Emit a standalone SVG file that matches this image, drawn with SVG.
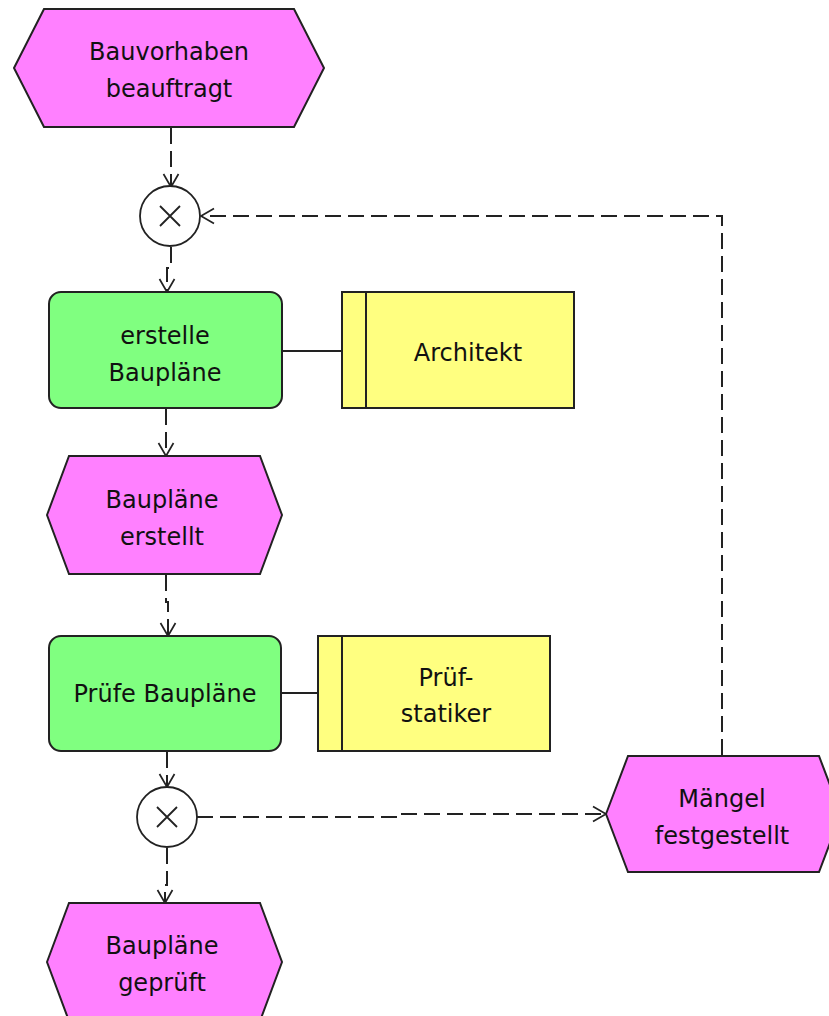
<svg xmlns="http://www.w3.org/2000/svg" width="829" height="1016" viewBox="0 0 829 1016">
<defs>
<style>
.ev{fill:#FF80FF;stroke:#222;stroke-width:2}
.fn{fill:#80FF80;stroke:#222;stroke-width:2}
.org{fill:#FFFF80;stroke:#222;stroke-width:2}
.xor{fill:#fff;stroke:#222;stroke-width:1.8}
.x{stroke:#222;stroke-width:1.8}
.t{font-family:"DejaVu Sans",Verdana,sans-serif;font-size:24px;fill:#111;text-anchor:middle}
.flow{fill:none;stroke:#222;stroke-width:2;stroke-dasharray:16 7}
.assoc{fill:none;stroke:#222;stroke-width:2}
</style>
<marker id="arr" markerUnits="userSpaceOnUse" markerWidth="20" markerHeight="20" viewBox="0 0 20 20" refX="16" refY="10" orient="auto">
<path d="M3,2.5 L16,10 L3,17.5" fill="none" stroke="#222" stroke-width="1.7"/>
</marker>
</defs>
<rect width="829" height="1016" fill="#fff"/>
<g id="connectors">
<path class="flow" d="M171,128 V187" marker-end="url(#arr)"/>
<path class="flow" d="M171,247 V268 H167 V292" marker-end="url(#arr)"/>
<path class="flow" d="M166,409 V456" marker-end="url(#arr)"/>
<path class="flow" d="M166,575 V602 H168 V636" marker-end="url(#arr)"/>
<path class="flow" d="M167,752 V787" marker-end="url(#arr)"/>
<path class="flow" d="M167,848 V885 H165 V903" marker-end="url(#arr)"/>
<path class="flow" d="M197,817 H402 V814 H606" marker-end="url(#arr)"/>
<path class="flow" d="M722,755 V216 H201" marker-end="url(#arr)"/>
<path class="assoc" d="M283,351 H342"/>
<path class="assoc" d="M282,693 H318"/>
</g>
<g id="ev_bauvorhaben">
<polygon class="ev" points="14,68 44,9 294,9 324,68 294,127 44,127"/>
<text class="t" x="169" y="60">Bauvorhaben</text>
<text class="t" x="169" y="97">beauftragt</text>
</g>
<g id="xor1">
<circle class="xor" cx="170" cy="216" r="30"/>
<path class="x" d="M160,206 L180,226 M180,206 L160,226"/>
</g>
<g id="fn_erstelle">
<rect class="fn" x="49" y="292" width="233" height="116" rx="12"/>
<text class="t" x="165" y="344">erstelle</text>
<text class="t" x="165" y="381">Baupläne</text>
</g>
<g id="org_architekt">
<rect class="org" x="342" y="292" width="232" height="116"/>
<line class="assoc" x1="366" y1="292" x2="366" y2="408"/>
<text class="t" x="468" y="361">Architekt</text>
</g>
<g id="ev_erstellt">
<polygon class="ev" points="47,515 69,456 260,456 282,515 260,574 69,574"/>
<text class="t" x="162" y="508">Baupläne</text>
<text class="t" x="162" y="545">erstellt</text>
</g>
<g id="fn_pruefe">
<rect class="fn" x="49" y="636" width="232" height="115" rx="12"/>
<text class="t" x="165" y="702">Prüfe Baupläne</text>
</g>
<g id="org_pruefstatiker">
<rect class="org" x="318" y="636" width="232" height="115"/>
<line class="assoc" x1="342" y1="636" x2="342" y2="751"/>
<text class="t" x="446" y="686">Prüf-</text>
<text class="t" x="446" y="722">statiker</text>
</g>
<g id="xor2">
<circle class="xor" cx="167" cy="817" r="30"/>
<path class="x" d="M157,807 L177,827 M177,807 L157,827"/>
</g>
<g id="ev_geprueft">
<polygon class="ev" points="47,962 69,903 260,903 282,962 260,1021 69,1021"/>
<text class="t" x="162" y="954">Baupläne</text>
<text class="t" x="162" y="991">geprüft</text>
</g>
<g id="ev_maengel">
<polygon class="ev" points="606,814 628,756 819,756 841,814 819,872 628,872"/>
<text class="t" x="722" y="807">Mängel</text>
<text class="t" x="722" y="844">festgestellt</text>
</g>
</svg>
